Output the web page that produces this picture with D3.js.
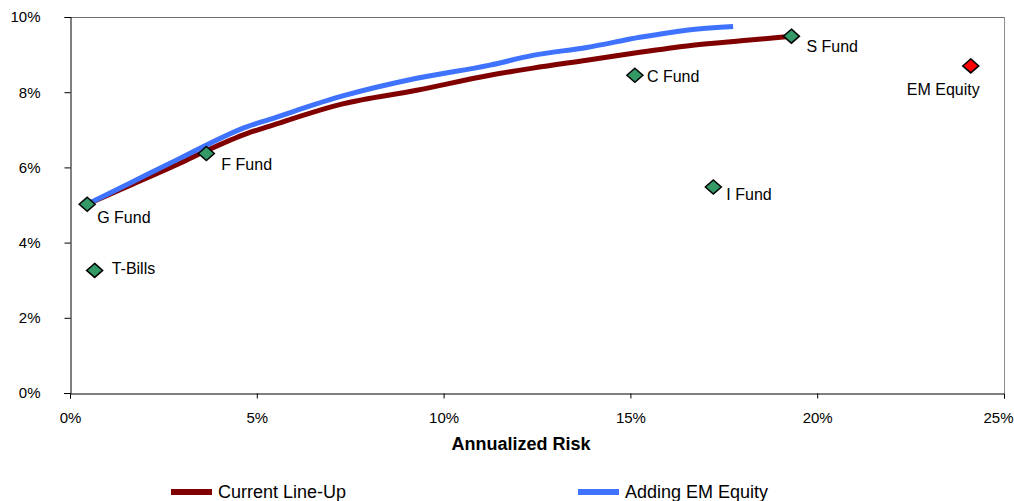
<!DOCTYPE html>
<html>
<head>
<meta charset="utf-8">
<script src="https://cdn.jsdelivr.net/npm/d3@7"></script>
<style>
  html, body { margin: 0; padding: 0; background: #fff; }
  svg { display: block; font-family: "Liberation Sans", Arial, sans-serif; }
</style>
</head>
<body>
<svg id="chart" width="1014" height="501"></svg>
<script>
// Efficient frontier: annualized risk (x, %) vs expected return (y, %)
const currentLineUp = [
  [0.46, 5.02], [1.60, 5.52], [2.94, 6.11], [3.66, 6.45], [4.73, 6.90],
  [5.35, 7.10], [7.30, 7.69], [9.28, 8.05], [11.24, 8.45], [12.39, 8.64],
  [13.83, 8.85], [15.25, 9.06], [16.67, 9.25], [18.12, 9.38], [19.31, 9.49]
];
const addingEM = [
  [0.46, 5.02], [1.60, 5.58], [2.94, 6.24], [4.73, 7.08], [5.35, 7.28],
  [7.30, 7.90], [9.28, 8.37], [11.24, 8.72], [12.39, 8.98], [13.83, 9.19],
  [15.25, 9.46], [16.67, 9.67], [17.75, 9.75]
];

// Individual assets
const assetNames = ["T-Bills", "G Fund", "F Fund", "C Fund", "I Fund", "S Fund", "EM Equity"];
const assetRisk  = [0.66, 0.46, 3.65, 15.12, 17.22, 19.31, 24.11];
const assetRet   = [3.26, 5.02, 6.37, 8.45, 5.48, 9.49, 8.70];

const xTicks = [0, 5, 10, 15, 20, 25];
const yTicks = [0, 2, 4, 6, 8, 10];

const seriesNames = ["Current Line-Up", "Adding EM Equity"];

const svg = d3.select("#chart");
const plot = { left: 70, right: 1004, top: 17, bottom: 393 };

const x = d3.scaleLinear().domain([0, 25]).range([plot.left, plot.right]);
const y = d3.scaleLinear().domain([0, 10]).range([plot.bottom, plot.top]);
const pct = d => d + "%";

// Plot frame: top and right edges
svg.append("line")
  .attr("x1", plot.left).attr("x2", plot.right)
  .attr("y1", plot.top + 0.5).attr("y2", plot.top + 0.5)
  .attr("stroke", "#6e6e6e").attr("stroke-width", 1);
svg.append("line")
  .attr("x1", plot.right + 0.5).attr("x2", plot.right + 0.5)
  .attr("y1", plot.top).attr("y2", plot.bottom)
  .attr("stroke", "#8a8a8a").attr("stroke-width", 1);

// Axes
const xAxis = svg.append("g")
  .attr("transform", `translate(0,${plot.bottom + 0.5})`)
  .call(d3.axisBottom(x).tickValues(xTicks).tickFormat(pct).tickSize(5).tickPadding(14));
const yAxis = svg.append("g")
  .attr("transform", `translate(${plot.left + 0.5},0)`)
  .call(d3.axisLeft(y).tickValues(yTicks).tickFormat(pct).tickSize(6).tickPadding(24));

[xAxis, yAxis].forEach(g => {
  g.select(".domain").attr("stroke", "#000");
  g.selectAll(".tick line").attr("stroke", "#000");
  g.selectAll(".tick text")
    .attr("fill", "#000")
    .style("font-size", "15px")
    .style("font-family", "'Liberation Sans', Arial, sans-serif");
});
// keep the last x label inside the canvas
xAxis.selectAll(".tick text")
  .filter(d => d === xTicks[xTicks.length - 1])
  .attr("text-anchor", "end").attr("dx", "9");

// extend the x-axis baseline to meet the 0% tick on the left
svg.append("line")
  .attr("x1", plot.left - 6).attr("x2", plot.left)
  .attr("y1", plot.bottom + 0.5).attr("y2", plot.bottom + 0.5)
  .attr("stroke", "#000");

// Axis title
svg.append("text")
  .attr("x", 521).attr("y", 450)
  .attr("text-anchor", "middle")
  .style("font-size", "18px").style("font-weight", "bold")
  .text("Annualized Risk");

// Frontier lines
const line = d3.line().x(d => x(d[0])).y(d => y(d[1])).curve(d3.curveMonotoneX);
svg.append("path").datum(currentLineUp)
  .attr("d", line).attr("fill", "none")
  .attr("stroke", "#800000").attr("stroke-width", 5)
  .attr("stroke-linejoin", "round");
svg.append("path").datum(addingEM)
  .attr("d", line).attr("fill", "none")
  .attr("stroke", "#3f72ff").attr("stroke-width", 5)
  .attr("stroke-linejoin", "round");

// Asset markers (diamonds)
const assets = assetNames.map((n, i) => ({ name: n, risk: assetRisk[i], ret: assetRet[i] }));
const diamond = "M0,-7L8,0L0,7L-8,0Z";
svg.append("g").selectAll("path").data(assets).join("path")
  .attr("d", diamond)
  .attr("transform", d => `translate(${x(d.risk)},${y(d.ret)})`)
  .attr("fill", d => d.name === "EM Equity" ? "#ff0000" : "#339966")
  .attr("stroke", "#000").attr("stroke-width", 1.5);

// Asset labels: offset from each marker
const labelOffset = {
  "T-Bills":   { dx: 17, dy: 4,  anchor: "start" },
  "G Fund":    { dx: 10, dy: 19, anchor: "start" },
  "F Fund":    { dx: 15, dy: 17, anchor: "start" },
  "C Fund":    { dx: 12, dy: 7,  anchor: "start" },
  "I Fund":    { dx: 13, dy: 13, anchor: "start" },
  "S Fund":    { dx: 15, dy: 16, anchor: "start" },
  "EM Equity": { dx: 9,  dy: 29, anchor: "end" }
};
svg.append("g").selectAll("text").data(assets).join("text")
  .attr("x", d => x(d.risk) + labelOffset[d.name].dx)
  .attr("y", d => y(d.ret) + labelOffset[d.name].dy)
  .attr("text-anchor", d => labelOffset[d.name].anchor)
  .style("font-size", "16px")
  .attr("fill", "#000")
  .text(d => d.name);

// Legend
const legendColors = ["#800000", "#3f72ff"];
const legendX = [171, 578];
const legend = svg.append("g").selectAll("g").data(seriesNames).join("g")
  .attr("transform", (d, i) => `translate(${legendX[i]},492)`);
legend.append("line")
  .attr("x1", 0).attr("x2", 41).attr("y1", 0).attr("y2", 0)
  .attr("stroke", (d, i) => legendColors[i]).attr("stroke-width", 6);
legend.append("text")
  .attr("x", 47).attr("y", 6)
  .style("font-size", "18px")
  .text(d => d);
</script>
</body>
</html>
